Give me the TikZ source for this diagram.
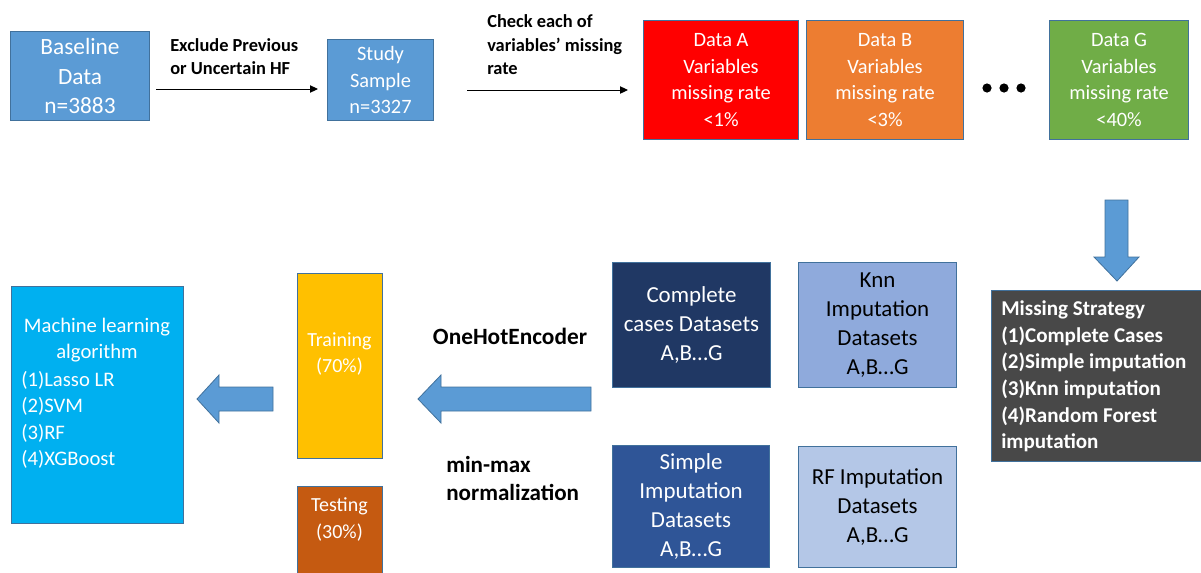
\documentclass[tikz,border=0pt]{standalone}
\usepackage{fontspec}
\setmainfont{Carlito}
\usetikzlibrary{arrows.meta,calc}

\definecolor{boxblue}{HTML}{5B9BD5}
\definecolor{edgeblue}{HTML}{41719C}
\definecolor{datared}{HTML}{FF0000}
\definecolor{dataorange}{HTML}{ED7D31}
\definecolor{datagreen}{HTML}{70AD47}
\definecolor{navy}{HTML}{203864}
\definecolor{midblue}{HTML}{2F5597}
\definecolor{knnblue}{HTML}{8FAADC}
\definecolor{rfblue}{HTML}{B4C7E7}
\definecolor{mlcyan}{HTML}{00B0F0}
\definecolor{trainyellow}{HTML}{FFC000}
\definecolor{testbrown}{HTML}{C55A11}
\definecolor{stratgray}{HTML}{484848}

\tikzset{
  panel/.style={draw=edgeblue, line width=0.8pt, rectangle, anchor=north west,
                inner sep=0pt, align=center, text=white},
  flow/.style={line width=0.75pt, -{Triangle[length=6pt,width=5.5pt]}},
  steplabel/.style={font=\bfseries\fontsize{13.8}{17.6}\selectfont, align=left,
                    inner sep=0pt, anchor=west},
  blockarrow/.style={fill=boxblue, draw=edgeblue, line width=0.6pt, line join=miter},
  dotmark/.style={circle, fill=black, inner sep=0pt, minimum size=6.9pt}
}

\begin{document}
\begin{tikzpicture}[x=0.75pt, y=-0.75pt]
\useasboundingbox (0,0) rectangle (1201,572);

% --- top row: cohort selection and per-dataset missing rates ---
\node[panel, fill=boxblue, minimum width=104.25pt, minimum height=66.75pt,
      font=\fontsize{17.5}{21.8}\selectfont] (base) at (10,31)
      {Baseline\\Data\\n=3883};
\node[panel, fill=boxblue, minimum width=79.5pt, minimum height=60.75pt,
      font=\fontsize{15.3}{19.9}\selectfont] (study) at (327,39)
      {Study\\Sample\\n=3327};

\node[panel, fill=datared, minimum width=116.25pt, minimum height=89.25pt,
      font=\fontsize{15.3}{19.9}\selectfont] (dA) at (643,20)
      {Data A\\Variables\\missing rate\\<1\%};
\node[panel, fill=dataorange, minimum width=117.75pt, minimum height=89.25pt,
      font=\fontsize{15.3}{19.9}\selectfont] (dB) at (806,20)
      {Data B\\Variables\\missing rate\\<3\%};
\node[panel, fill=datagreen, minimum width=104.25pt, minimum height=89.25pt,
      font=\fontsize{15.3}{19.9}\selectfont] (dG) at (1049,20)
      {Data G\\Variables\\missing rate\\<40\%};

\node[dotmark] (dot1) at (987,88) {};
\node[dotmark] (dot2) at (1004,88) {};
\node[dotmark] (dot3) at (1021,88) {};

\draw[flow, shorten <=4.5pt, shorten >=6.75pt] (base.east |- 0,89) -- (study.west |- 0,89);
\draw[flow, shorten <=24.75pt, shorten >=11.25pt] (study.east |- 0,90) -- (dA.west |- 0,90);

\node[steplabel] (lblexcl) at (170,56.5) {Exclude Previous\\or Uncertain HF};
\node[steplabel] (lblcheck) at (487,45) {Check each of\\variables’ missing\\rate};

% --- missing-data strategy ---
\draw[blockarrow] (1105,200) -- (1128,200) -- (1128,257) -- (1139,257) -- (1117,281)
  -- (1094,257) -- (1105,257) -- cycle;

\node[panel, fill=stratgray, minimum width=160.5pt, minimum height=128.25pt] (strat) at (991,290) {};
\node[font=\bfseries\fontsize{15.8}{19.9}\selectfont, text=white, align=left,
      inner sep=0pt, anchor=west] (strattext) at (1001,376.5)
      {Missing Strategy\\(1)Complete Cases\\(2)Simple imputation\\(3)Knn imputation\\(4)Random Forest\\imputation};

% --- imputed dataset groups ---
\node[panel, fill=navy, minimum width=118.5pt, minimum height=93.75pt,
      font=\fontsize{17.2}{22}\selectfont] (cc) at (612,262)
      {Complete\\cases Datasets\\A,B…G};
\node[panel, fill=knnblue, text=black, minimum width=118.5pt, minimum height=93.75pt,
      font=\fontsize{17.2}{21.8}\selectfont] (knn) at (798,262)
      {Knn\\Imputation\\Datasets\\A,B…G};
\node[panel, fill=midblue, minimum width=117.75pt, minimum height=91.5pt,
      font=\fontsize{17.2}{21.9}\selectfont] (simp) at (612,445)
      {Simple\\Imputation\\Datasets\\A,B…G};
\node[panel, fill=rfblue, text=black, minimum width=118.5pt, minimum height=90.75pt,
      font=\fontsize{17.2}{22}\selectfont] (rf) at (798,446)
      {RF Imputation\\Datasets\\A,B…G};

% --- preprocessing ---
\draw[blockarrow] (418,399) -- (441,375) -- (441,387) -- (591,387) -- (591,411)
  -- (441,411) -- (441,423) -- cycle;
\node[font=\bfseries\fontsize{17.5}{21}\selectfont, inner sep=0pt] (ohe) at (510,336) {OneHotEncoder};
\node[font=\bfseries\fontsize{17.3}{21}\selectfont, inner sep=0pt, align=left, anchor=west]
      (mm) at (446,478) {min-max\\normalization};

% --- data split ---
\node[panel, fill=trainyellow, minimum width=63.75pt, minimum height=138.75pt] (train) at (297,273) {};
\node[font=\fontsize{15}{20.2}\selectfont, text=white, align=center, inner sep=0pt]
      (traintext) at (339.5,354) {Training\\(70\%)};
\node[panel, fill=testbrown, minimum width=63.75pt, minimum height=75pt] (test) at (297,486) {};
\node[font=\fontsize{15}{20.2}\selectfont, text=white, align=center, inner sep=0pt]
      (testtext) at (339.5,519.5) {Testing\\(30\%)};

\draw[blockarrow] (197,399) -- (219,375) -- (219,387) -- (273,387) -- (273,411)
  -- (219,411) -- (219,423) -- cycle;

% --- models ---
\node[panel, fill=mlcyan, minimum width=129pt, minimum height=177.75pt] (ml) at (11,286) {};
\node[font=\fontsize{15.5}{19.9}\selectfont, text=white, align=center, inner sep=0pt]
      (mltitle) at (97,340) {Machine learning\\algorithm};
\node[font=\fontsize{15.5}{19.9}\selectfont, text=white, align=left, inner sep=0pt, anchor=west]
      (mllist) at (21,420) {(1)Lasso LR\\(2)SVM\\(3)RF\\(4)XGBoost};

\end{tikzpicture}
\end{document}
